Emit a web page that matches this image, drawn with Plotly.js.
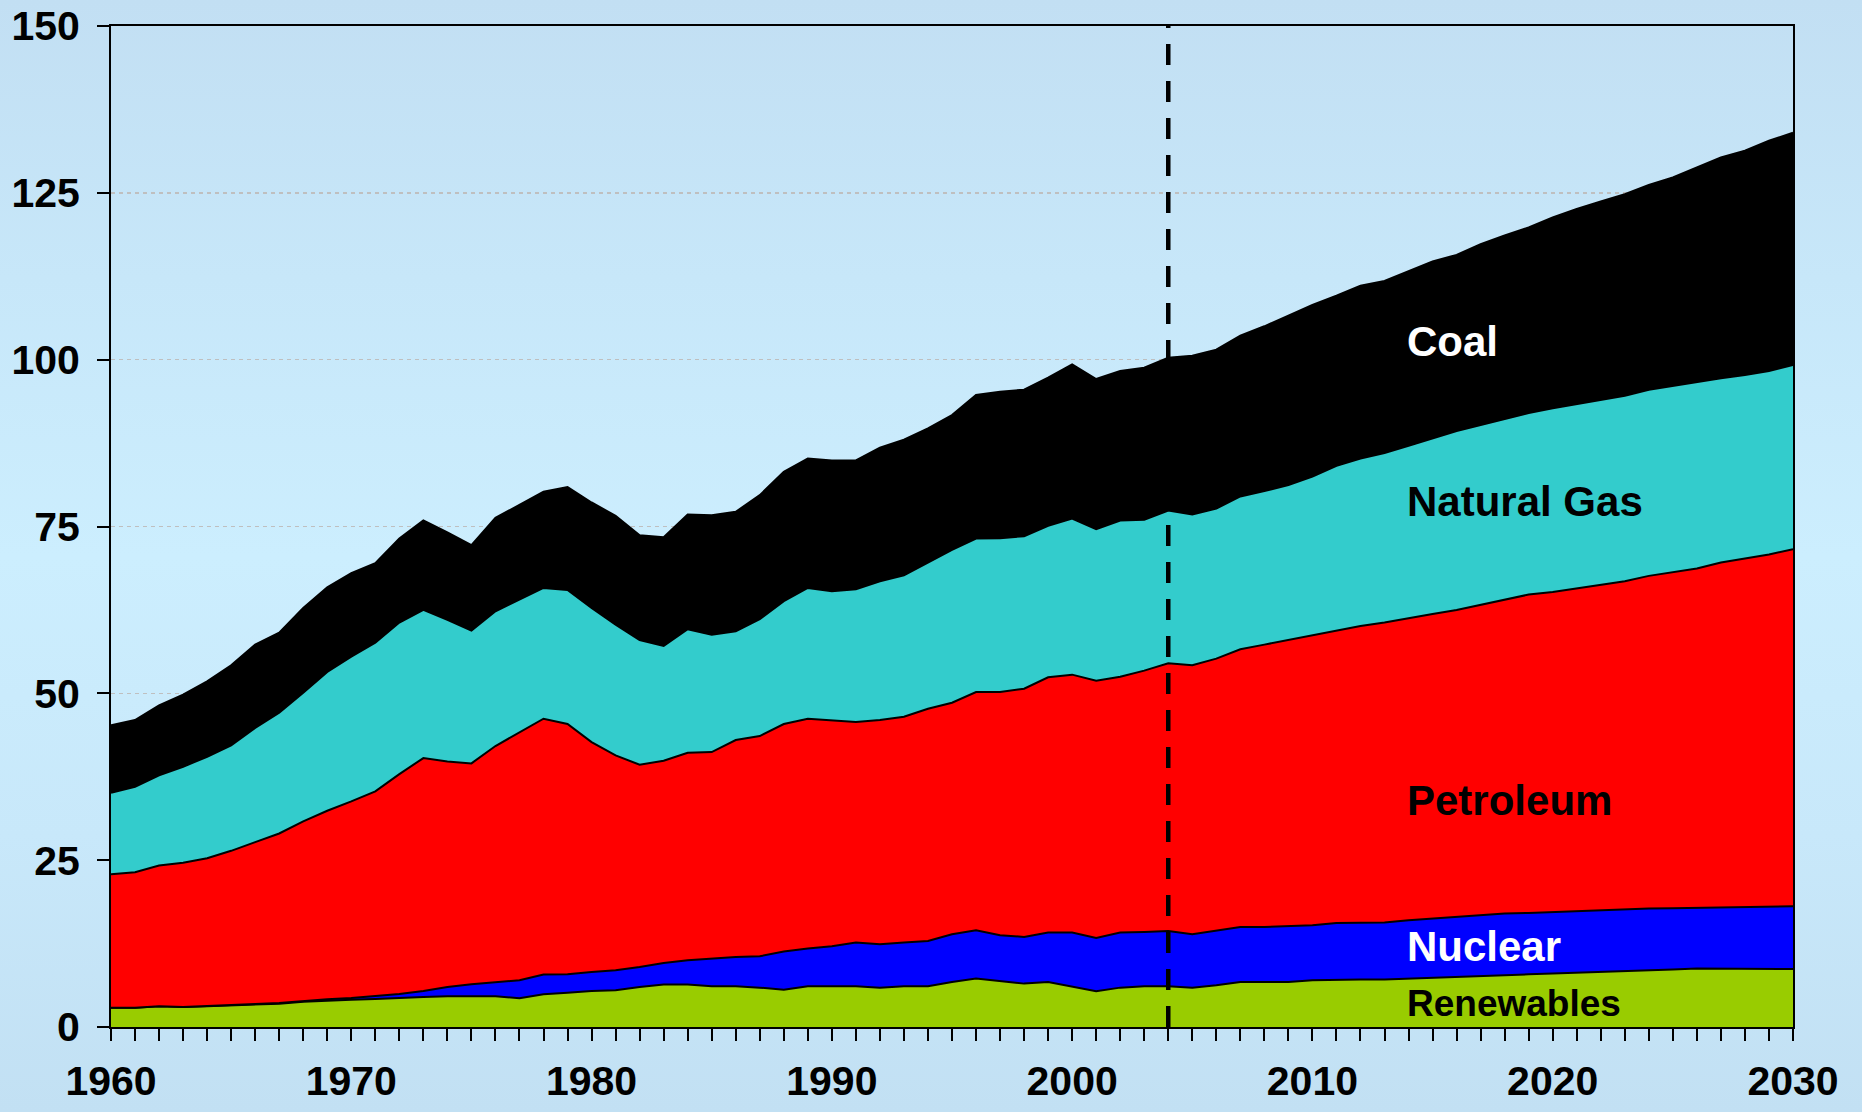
<!DOCTYPE html>
<html>
<head>
<meta charset="utf-8">
<script src="https://cdn.plot.ly/plotly-3.0.1.min.js"></script>
<style>
  html, body { margin: 0; padding: 0; }
  body {
    width: 1862px; height: 1112px; overflow: hidden;
    background: linear-gradient(to bottom, #C2DFF3 0%, #C7E7F9 25%, #CCEEFE 50%, #C8E8FA 75%, #C2E0F3 100%);
  }
  #chart { width: 1862px; height: 1112px; }
</style>
</head>
<body>
<div id="chart"></div>
<script>
const years = [1960,1961,1962,1963,1964,1965,1966,1967,1968,1969,
  1970,1971,1972,1973,1974,1975,1976,1977,1978,1979,
  1980,1981,1982,1983,1984,1985,1986,1987,1988,1989,
  1990,1991,1992,1993,1994,1995,1996,1997,1998,1999,
  2000,2001,2002,2003,2004,2005,2006,2007,2008,2009,
  2010,2011,2012,2013,2014,2015,2016,2017,2018,2019,
  2020,2021,2022,2023,2024,2025,2026,2027,2028,2029,2030];

const renewables = [2.9,2.9,3.1,3.0,3.1,3.2,3.4,3.5,3.8,4.0,
  4.1,4.2,4.4,4.5,4.6,4.6,4.6,4.3,4.9,5.15,
  5.4,5.5,6.0,6.35,6.35,6.1,6.1,5.9,5.6,6.1,
  6.1,6.1,5.9,6.1,6.1,6.75,7.25,6.9,6.5,6.75,
  6.1,5.35,5.9,6.1,6.1,5.9,6.25,6.75,6.75,6.75,
  7.0,7.1,7.1,7.1,7.25,7.4,7.5,7.6,7.75,7.9,
  8.0,8.1,8.2,8.35,8.5,8.6,8.75,8.75,8.75,8.7,8.7];

const nuclear = [0,0,0,0,0.05,0.05,0.05,0.1,0.1,0.15,
  0.25,0.4,0.55,0.9,1.4,1.8,2.1,2.7,2.95,2.75,
  2.85,3.0,3.0,3.25,3.65,4.15,4.4,4.7,5.7,5.65,
  6.0,6.55,6.5,6.55,6.8,7.15,7.25,6.85,7.0,7.4,
  8.05,8.0,8.25,8.15,8.3,8.0,8.15,8.25,8.25,8.4,
  8.25,8.5,8.55,8.55,8.75,8.85,9.0,9.15,9.25,9.2,
  9.25,9.3,9.3,9.25,9.25,9.2,9.1,9.2,9.25,9.35,9.4];

const petroleum = [20.0,20.3,21.1,21.6,22.15,23.15,24.25,25.4,26.9,28.25,
  29.45,30.7,32.95,34.9,33.8,33.1,35.4,37.1,38.35,37.5,
  34.45,32.2,30.3,30.3,31.1,30.95,32.5,33.0,34.1,34.45,
  33.9,33.05,33.6,33.85,34.8,34.7,35.7,36.45,37.2,38.25,
  38.65,38.55,38.35,39.15,40.1,40.3,40.8,41.6,42.3,42.85,
  43.45,43.9,44.45,44.95,45.3,45.65,46.0,46.55,47.0,47.7,
  47.95,48.3,48.7,49.2,49.85,50.3,50.85,51.65,52.2,52.75,53.5];

const naturalGas = [12.2,12.8,13.5,14.4,15.2,15.8,17.1,18.1,19.3,20.8,
  21.7,22.3,22.7,22.2,21.2,19.9,20.2,20.0,19.6,20.1,
  20.1,19.6,18.7,17.2,18.5,17.6,16.3,17.5,18.4,19.6,
  19.3,19.9,20.8,21.2,21.9,22.9,23.0,23.05,22.85,22.7,
  23.4,22.7,23.4,22.6,22.9,22.6,22.5,22.9,23.0,23.2,
  23.8,24.6,25.1,25.4,25.8,26.3,26.8,26.9,27.1,27.2,
  27.5,27.6,27.7,27.8,27.9,28.0,28.0,27.6,27.5,27.5,27.6];

const coal = [10.1,10.0,10.5,10.8,11.3,12.0,12.5,12.0,12.7,12.7,
  12.5,11.9,12.6,13.4,13.1,12.8,14.0,14.2,14.4,15.4,
  15.8,16.3,15.7,16.3,17.2,17.9,17.9,18.6,19.4,19.4,
  19.6,19.3,20.0,20.3,20.1,20.2,21.5,21.95,21.95,22.2,
  23.1,22.5,22.4,22.8,22.9,23.8,23.8,24.1,24.7,25.4,
  25.7,25.5,25.9,25.8,26.2,26.5,26.4,27.1,27.5,27.8,
  28.6,29.3,29.8,30.2,30.7,31.2,32.1,33.1,33.6,34.5,34.8];

const seriesNames = ['Renewables','Nuclear','Petroleum','Natural Gas','Coal'];
const seriesColors = ['#99CC00','#0000FF','#FF0000','#33CCCC','#000000'];
const seriesData = [renewables, nuclear, petroleum, naturalGas, coal];

const labelTexts = ['Coal','Natural Gas','Petroleum','Nuclear','Renewables'];
const labelY = [102.7, 78.7, 33.9, 12.1, 3.5];
const labelColors = ['#FFFFFF','#000000','#000000','#FFFFFF','#000000'];
const labelSizes = [42, 42, 42, 42, 37];
const labelX = 2013.85;
const forecastYear = 2004;

const traces = seriesData.map((vals, i) => ({
  type: 'scatter',
  x: years,
  y: vals,
  name: seriesNames[i],
  mode: 'lines',
  stackgroup: 'one',
  line: { color: '#000000', width: 2 },
  fillcolor: seriesColors[i],
  hoverinfo: 'skip'
}));

const FONT = 'Liberation Sans, Arial, Helvetica, sans-serif';

const annotations = labelTexts.map((t, i) => ({
  x: labelX, y: labelY[i], xref: 'x', yref: 'y',
  text: t, showarrow: false, xanchor: 'left', yanchor: 'middle',
  font: { family: FONT, size: labelSizes[i], color: labelColors[i], weight: 'bold' }
}));

const layout = {
  width: 1862, height: 1112,
  margin: { l: 111, r: 69, t: 26, b: 85, pad: 0 },
  paper_bgcolor: 'rgba(0,0,0,0)',
  plot_bgcolor: 'rgba(0,0,0,0)',
  showlegend: false,
  font: { family: FONT, size: 40, color: '#000000', weight: 'bold' },
  xaxis: {
    range: [1960, 2030],
    tick0: 1960, dtick: 10,
    ticks: 'outside', ticklen: 12, tickwidth: 2, tickcolor: '#000000',
    minor: { dtick: 1, ticks: 'outside', ticklen: 12, tickwidth: 2, tickcolor: '#000000', showgrid: false },
    showgrid: false, zeroline: false,
    showline: true, linecolor: '#000000', linewidth: 2, mirror: true,
    tickfont: { family: FONT, size: 41, color: '#000000', weight: 'bold' },
    ticklabelstandoff: 5,
    fixedrange: true
  },
  yaxis: {
    range: [0, 150],
    tick0: 0, dtick: 25,
    ticks: 'outside', ticklen: 12, tickwidth: 2, tickcolor: '#000000',
    showgrid: true, gridcolor: '#BFBFBF', gridwidth: 1.5, griddash: '4px,4px',
    zeroline: false,
    showline: true, linecolor: '#000000', linewidth: 2, mirror: true,
    tickfont: { family: FONT, size: 41, color: '#000000', weight: 'bold' },
    ticklabelstandoff: 9,
    fixedrange: true
  },
  shapes: [{
    type: 'line', xref: 'x', yref: 'paper',
    x0: forecastYear, x1: forecastYear, y0: 0, y1: 1,
    line: { color: '#000000', width: 4.5, dash: '21px,16px' },
    layer: 'above'
  }],
  annotations: annotations
};

Plotly.newPlot('chart', traces, layout, { displayModeBar: false, staticPlot: true });
</script>
</body>
</html>
